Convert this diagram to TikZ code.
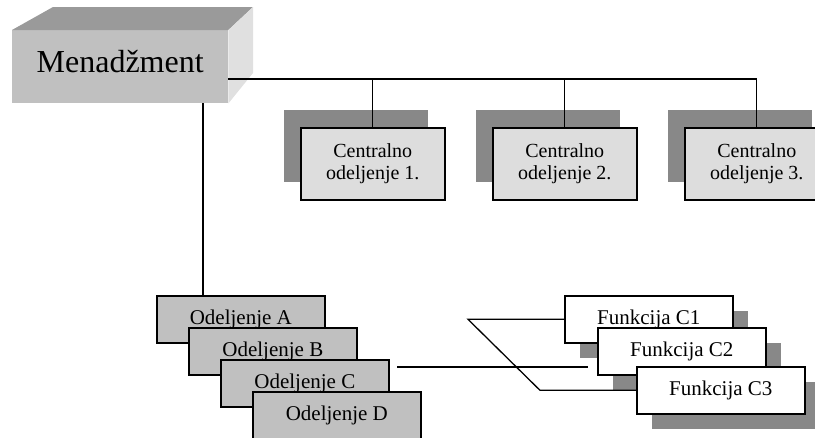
\documentclass[tikz,border=0pt]{standalone}
\usepackage{fontspec}
\setmainfont{Liberation Serif}
\definecolor{shadowgray}{HTML}{888888}
\definecolor{frontgray}{HTML}{C0C0C0}
\definecolor{topgray}{HTML}{9A9A9A}
\definecolor{sidegray}{HTML}{E0E0E0}
\definecolor{centralfill}{HTML}{DDDDDD}
\definecolor{odfill}{HTML}{C0C0C0}
\begin{document}
\begin{tikzpicture}[x=1pt,y=-1pt,
  conn/.style={draw=black, line width=1.3pt},
  shadowrect/.style={fill=shadowgray, draw=none, inner sep=0pt, anchor=north west},
  cshadow/.style={shadowrect, minimum width=144pt, minimum height=72pt},
  cbox/.style={draw=black, line width=1.6pt, fill=centralfill, inner sep=0pt, anchor=north west,
    minimum width=144pt, minimum height=72pt, align=center, font=\fontsize{20pt}{22pt}\selectfont},
  obox/.style={draw=black, line width=1.6pt, fill=odfill, inner sep=0pt, anchor=north west,
    minimum width=168pt, minimum height=47pt, font=\fontsize{21pt}{24pt}\selectfont},
  fbox/.style={obox, fill=white},
  fshadow/.style={shadowrect, minimum width=168pt, minimum height=47pt}]
\clip (0,0) rectangle (815,437);
% Management 3D box
\node[fill=frontgray, inner sep=0pt, anchor=north west, minimum width=216pt, minimum height=73pt,
  text depth=11pt, font=\fontsize{32pt}{36pt}\selectfont] (m) at (12,30) {Menadžment};
\fill[topgray] (m.north west) -- (53,7) -- (253,7) -- (m.north east) -- cycle;
\fill[sidegray] (m.north east) -- (253,7) -- (253,73) -- (m.south east) -- cycle;
% central departments
\node[cshadow] (s1) at (284,110) {};
\node[cshadow] (s2) at (476,110) {};
\node[cshadow] (s3) at (668,110) {};
\node[cbox] (c1) at (300,127) {Centralno\\odeljenje 1.};
\node[cbox] (c2) at (492,127) {Centralno\\odeljenje 2.};
\node[cbox] (c3) at (684,127) {Centralno\\odeljenje 3.};
% connectors top
\coordinate (h) at (0,79);
\coordinate (v) at (203,0);
\draw[conn] (m.east |- h) -| (c3.north);
\draw[conn] (c1.north |- h) -- (c1.north);
\draw[conn] (c2.north |- h) -- (c2.north);
% departments A-D
\node[obox] (oa) at (156,295) {Odeljenje A};
\node[obox] (ob) at (188,327) {Odeljenje B};
\node[obox] (oc) at (220,359) {Odeljenje C};
\node[obox] (od) at (252,391) {Odeljenje D};
\draw[conn] (v |- m.south) -- (v |- oa.north);
% functions
\node[fshadow] (fs1) at (580,311) {};
\node[fbox] (f1) at (564,295) {Funkcija C1};
\node[fshadow] (fs2) at (613,343) {};
\node[fbox] (f2) at (597,327) {Funkcija C2};
\node[fshadow] (fs3) at (652,382) {};
\node[fbox] (f3) at (636,366) {Funkcija C3};
% lower connectors
\coordinate (cl1) at (397,367);
\coordinate (cl2) at (588,367);
\draw[conn] (cl1) -- (cl2);
\coordinate (k1) at (468,318);
\coordinate (k2) at (540,391);
\draw[conn] (f1.west) -- (f1.west -| k1) -- (k2 |- f3.west) -- (f3.west);
\end{tikzpicture}
\end{document}
